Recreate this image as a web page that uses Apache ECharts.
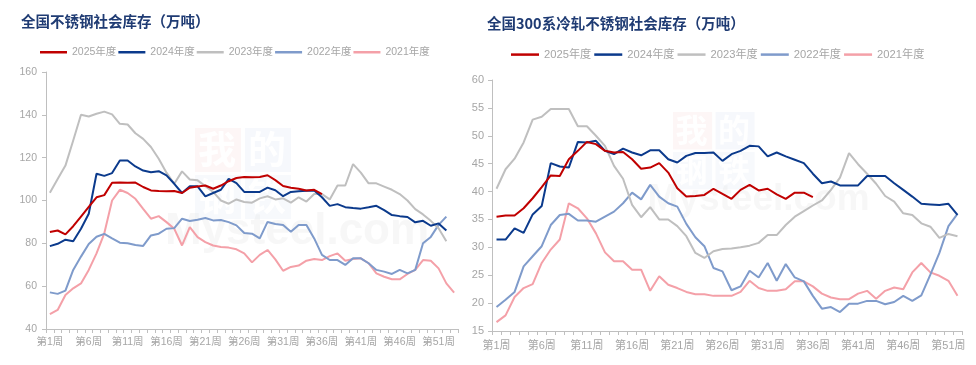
<!DOCTYPE html>
<html><head><meta charset="utf-8">
<script src="https://cdn.jsdelivr.net/npm/echarts@6/dist/echarts.min.js"></script>
<style>html,body{margin:0;padding:0;background:#fff}#c{width:976px;height:365px}</style>
</head><body><div id="c"></div>
<script>
// ---------- categories ----------
const weeksL = Array.from({length: 53}, (_, i) => '第' + (i + 1) + '周');
const weeksR = Array.from({length: 52}, (_, i) => '第' + (i + 1) + '周');
const seriesNames = ['2025年度', '2024年度', '2023年度', '2022年度', '2021年度'];
const titleL = '全国不锈钢社会库存（万吨）';
const titleR = '全国300系冷轧不锈钢社会库存（万吨）';

// ---------- left chart: 全国不锈钢社会库存 ----------
const L2025 = [85.3,86,84.2,88,92.5,97,101.5,102.5,108.3,108.4,108.3,108.4,106.3,104.7,104.4,104.3,104.4,103.5,106,106.5,107,105.5,107,109,110.5,111,110.8,111,111.8,109.5,106.8,106,105.5,104.7,105,103];
const L2024 = [78.7,79.8,81.7,81,86.8,93.8,112.5,111.5,112.8,118.7,118.7,115.9,114,113.2,113.7,111.7,107.8,103.5,106.6,106.6,101.9,103.5,105,110.1,108.1,104,104,104,106,104.8,102,104,104.3,104.5,104.7,101.5,97.5,98.3,96.9,96.5,96.2,96.8,97.5,95.5,93.2,92.7,92.3,89.8,90.5,88.2,89.3,86];
const L2023 = [103.6,110,116.3,128,140,139.2,140.5,141.5,140.2,135.8,135.5,131.4,128.8,125,119.5,113,107.8,113.6,109.8,109.4,106.7,104,100,98.5,100.5,99.3,99,101,102,100.5,101,99,101.5,99.5,103,103,100.5,107,107,117,113,108,108,106.5,105,103,100,96,93.5,90.5,87,81];
const L2022 = [57.1,56.4,57.9,67.6,73.8,79.7,83.1,84.4,82.3,80.3,80,79.2,78.8,83.7,84.5,86.8,87.1,91.5,90.4,91,91.8,90.7,90.9,89.9,88.4,84.8,84.5,82.3,90,89,88.6,85.4,88.6,88.6,82.3,74.6,72.2,72.2,69.9,73,73,70.7,67.6,66.8,65.7,67.6,66,67.6,80,83,88.6,92.5];
const L2021 = [46.9,48.9,55.9,59,61.3,67.6,75.3,84.7,100,105,103.5,100.8,96.1,91.5,92.7,89.9,86.8,79,87.6,82.9,80.6,79,78.3,78,77.2,75.3,71.1,74.6,76.9,72.5,67.2,69,69.6,71.9,72.7,72.2,74,75.3,71.9,72.7,73,70.7,66,64.4,63.2,63.2,65.7,67.6,72.2,71.9,68.3,61.3,57];

// ---------- right chart: 全国300系冷轧不锈钢社会库存 ----------
const R2025 = [35.5,35.7,35.7,37,38.8,40.8,42.9,42.8,45.8,47.3,48.9,48.5,47.3,47,47.1,45.8,44.1,44.3,45.1,43.4,40.6,39.1,39.2,39.4,40.5,39.6,38.7,40.3,41.2,40.2,40.5,39.5,38.7,39.8,39.8,39];
const R2024 = [31.4,31.4,33.4,32.6,35.9,37.4,45.1,44.5,44.3,48.9,48.8,49.1,47.3,46.7,47.7,47,46.5,47.4,47.4,45.8,45.2,46.4,46.9,46.9,47,45.5,46.7,47.3,48.2,48.1,46.3,47,46.3,45.7,45.1,43.2,41.5,41.8,41.1,41.1,41.1,42.8,42.8,42.8,41.5,40.3,39.1,37.8,37.7,37.6,37.8,35.8];
const R2023 = [40.5,44,45.9,48.8,52.9,53.4,54.8,54.8,54.8,51.7,51.7,50,48.2,44.6,42.3,37.6,35.4,37.2,35,35,33.8,32,29,28.1,29.3,29.7,29.8,30,30.3,30.8,32.2,32.2,34,35.5,36.5,37.5,38.4,40.3,42.5,46.9,44.9,43.2,41.4,39.2,38.2,36.1,35.8,34.3,33.7,31.7,32.4,32];
const R2022 = [19.3,20.6,22,26.6,28.4,30.2,34,35.8,36,34.8,34.8,34.6,35.5,36.4,37.9,39.8,38.6,41.2,39.1,37.9,37.3,34.2,31.8,30.2,26.3,25.7,22.3,23,25.8,24.6,27.2,24,27,24.6,23.9,21.3,19,19.3,18.4,19.9,19.9,20.4,20.4,19.8,20.2,21.3,20.4,21.4,25.1,29,33.8,36];
const R2021 = [16.6,17.8,21.1,22.7,23.4,27.2,29.6,31.4,37.9,37,35.2,32.5,29.1,27.5,27.5,26,26,22.2,24.8,23.3,22.7,22,21.6,21.6,21.3,21.3,21.3,22,24,22.7,22.2,22.2,22.5,23.9,23.9,23,21.7,21,20.7,20.7,21.7,22.2,20.8,22.2,22.8,22.5,25.5,27.2,25.5,24.9,24,21.3];

// ---------- styling ----------
const colors = ['#C00000', '#0B3A8C', '#BFBFBF', '#7F9BCB', '#F4A0A8'];
const FONT = '"Liberation Sans", "Noto Sans CJK SC", sans-serif';
const axisGray = '#BFBFBF';
const labelGray = '#A6A6A6';

function xAxis(gi, data, fs, margin) {
  return {
    type: 'category', gridIndex: gi, data: data, boundaryGap: true,
    axisLine: {show: true, lineStyle: {color: axisGray, width: 1}},
    axisTick: {show: true, interval: 0, length: 4, lineStyle: {color: axisGray}},
    axisLabel: {interval: 4, color: labelGray, fontSize: fs, fontFamily: FONT, margin: margin},
    splitLine: {show: false}
  };
}
function yAxis(gi, min, max, step, fs, margin) {
  return {
    type: 'value', gridIndex: gi, min: min, max: max, interval: step,
    axisLine: {show: true, lineStyle: {color: axisGray, width: 1}},
    axisTick: {show: true, length: 4, lineStyle: {color: axisGray}},
    axisLabel: {color: labelGray, fontSize: fs, fontFamily: FONT, margin: margin},
    splitLine: {show: false}
  };
}
function mk(name, data, idx, gi) {
  return {
    name: name, type: 'line', xAxisIndex: gi, yAxisIndex: gi, data: data,
    symbol: 'none', smooth: false, z: 10 - idx,
    lineStyle: {color: colors[idx], width: 2},
    itemStyle: {color: colors[idx]},
    emphasis: {disabled: true}, animation: false
  };
}

function watermark(x, y, s) {
  const els = [];
  const box = (bx, by, col, ch) => {
    els.push({type: 'rect', left: bx, top: by, shape: {width: 46 * s, height: 44 * s}, style: {fill: col}, z: 0, silent: true});
    els.push({type: 'text', left: bx + 3 * s, top: by + 2 * s, style: {text: ch, fill: 'rgba(255,255,255,0.95)', font: 'bold ' + Math.round(38 * s) + 'px "Noto Sans CJK SC"'}, z: 0, silent: true});
  };
  box(x, y, 'rgba(240,200,200,0.16)', '我');
  box(x + 50 * s, y, 'rgba(200,212,236,0.16)', '的');
  box(x, y + 47 * s, 'rgba(200,212,236,0.14)', '钢');
  box(x + 50 * s, y + 47 * s, 'rgba(200,212,236,0.14)', '铁');
  els.push({type: 'text', left: x - 30 * s, top: y + 82 * s, style: {text: 'Mysteel.com', fill: 'rgba(230,230,230,0.3)', font: 'bold ' + Math.round(44 * s) + 'px "Liberation Sans"'}, z: 0, silent: true});
  return els;
}

const chart = echarts.init(document.getElementById('c'), null, {renderer: 'canvas'});
chart.setOption({
  backgroundColor: '#fff',
  animation: false,
  title: [
    {text: titleL, left: 16, top: 9, textStyle: {color: '#1F3B73', fontSize: 14.5, fontWeight: 'bold', fontFamily: '"Noto Sans CJK SC", sans-serif'}},
    {text: titleR, left: 482, top: 11, textStyle: {color: '#1F3B73', fontSize: 14.5, fontWeight: 'bold', fontFamily: '"Noto Sans CJK SC", sans-serif'}}
  ],
  legend: [
    {data: seriesNames, left: 35, top: 42, icon: 'rect', itemWidth: 27, itemHeight: 2.5, itemGap: 2,
     textStyle: {color: labelGray, fontSize: 10.5, fontFamily: FONT},
     selectedMode: false},
    {data: seriesNames.map(n => ({name: n})), left: 506, top: 44, icon: 'rect', itemWidth: 28, itemHeight: 2.5, itemGap: 3,
     textStyle: {color: labelGray, fontSize: 11.2, fontFamily: FONT},
     selectedMode: false}
  ],
  grid: [
    {left: 46, top: 72, width: 412, height: 257, containLabel: false},
    {left: 492, top: 80, width: 470, height: 251, containLabel: false}
  ],
  xAxis: [xAxis(0, weeksL, 10.5, 8), xAxis(1, weeksR, 11, 9)],
  yAxis: [yAxis(0, 40, 160, 20, 10.5, 9), yAxis(1, 15, 60, 5, 11, 8)],
  graphic: watermark(195, 128, 1).concat(watermark(673, 112, 0.85)),
  series: [
    mk(seriesNames[0], L2025, 0, 0),
    mk(seriesNames[1], L2024, 1, 0),
    mk(seriesNames[2], L2023, 2, 0),
    mk(seriesNames[3], L2022, 3, 0),
    mk(seriesNames[4], L2021, 4, 0),
    mk(seriesNames[0], R2025, 0, 1),
    mk(seriesNames[1], R2024, 1, 1),
    mk(seriesNames[2], R2023, 2, 1),
    mk(seriesNames[3], R2022, 3, 1),
    mk(seriesNames[4], R2021, 4, 1)
  ]
});
</script></body></html>
